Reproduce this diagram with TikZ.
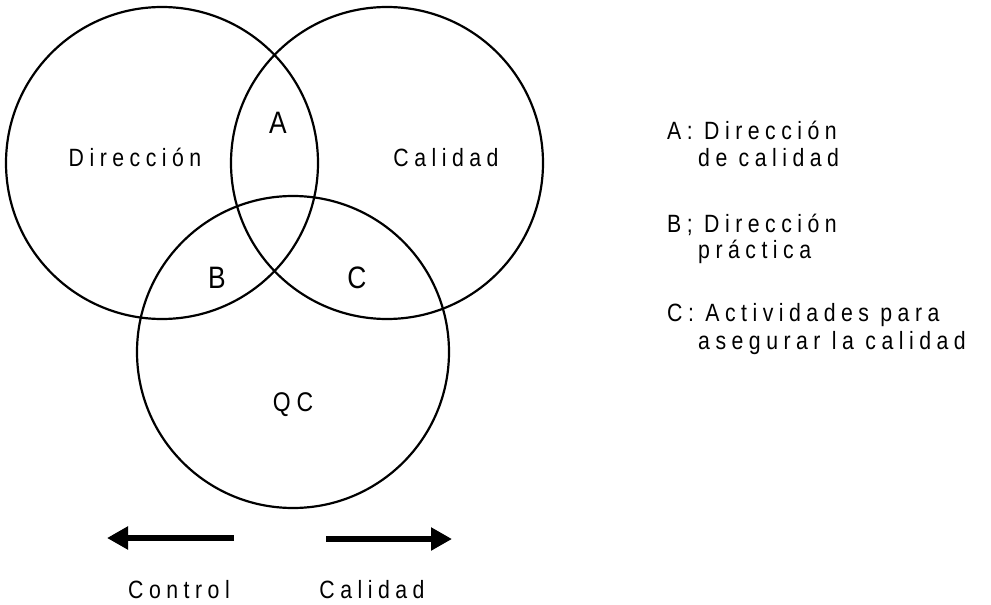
\documentclass[tikz,border=0pt]{standalone}
\usepackage{fontspec}
\setmainfont{Liberation Sans}
\newfontfamily\labfont[LetterSpace=22, FakeStretch=0.85]{Liberation Sans}
\usetikzlibrary{arrows.meta}
\begin{document}
\begin{tikzpicture}[x=1pt, y=-1pt,
  ring/.style={draw, line width=2.2pt, circle, inner sep=0pt},
  lab/.style={font=\labfont\fontsize{25}{25}\selectfont, inner sep=0pt},
  zone/.style={font=\labfont\fontsize{31}{31}\selectfont, inner sep=0pt},
  legend/.style={lab, anchor=west, align=left},
  bigarrow/.style={line width=6.5pt, -{Triangle[length=21pt, width=22pt]}}
]
  % canvas
  \useasboundingbox (0,0) rectangle (991,605);

  % the three overlapping sets
  \node[ring, minimum size=312pt] (dir) at (162,163) {};
  \node[ring, minimum size=312pt] (cal) at (387,163) {};
  \node[ring, minimum size=312pt] (qc)  at (293,352) {};

  % set names and intersections
  \node[lab]  (tdir) at (135,157) {Dirección};
  \node[lab]  (tcal) at (446,158) {Calidad};
  \node[font=\labfont\fontsize{27}{27}\selectfont, inner sep=0pt] (tqc) at (293,405) {QC};
  \node[zone] (ta)   at (278,123) {A};
  \node[zone] (tb)   at (217,278) {B};
  \node[zone] (tc)   at (357,278) {C};

  % legend
  \node[legend] (la1) at (667,130) {A: Dirección};
  \node[legend] (la2) at (698,158) {de calidad};
  \node[legend] (lb1) at (667,225) {B; Dirección};
  \node[legend] (lb2) at (698,252) {práctica};
  \node[legend] (lc1) at (667,315) {C: Actividades para};
  \node[legend] (lc2) at (698,343) {asegurar la calidad};

  % direction arrows
  \coordinate (l0) at (234,538);
  \coordinate (l1) at (107,538);
  \coordinate (r0) at (326,539);
  \coordinate (r1) at (452,539);
  \draw[bigarrow] (l0) -- (l1);
  \draw[bigarrow] (r0) -- (r1);
  \node[lab] (tctl) at (179,590) {Control};
  \node[lab] (tqal) at (372,590) {Calidad};
\end{tikzpicture}
\end{document}
